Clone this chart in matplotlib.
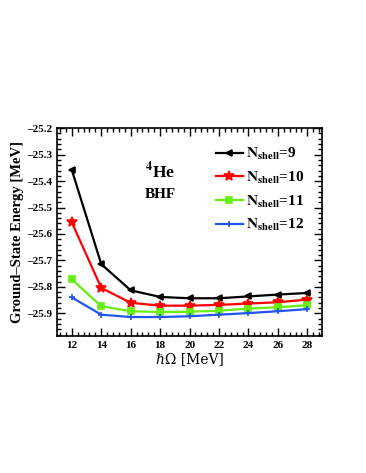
#!/usr/bin/python3

import matplotlib
matplotlib.use("Agg")
import matplotlib.pyplot as plt
from matplotlib.ticker import AutoMinorLocator, MultipleLocator
import numpy as np

# hbar*Omega values [MeV]
hw = [12, 14, 16, 18, 20, 22, 24, 26, 28]

# ground-state energies [MeV] for each model space
e_nshell9 = [-25.358, -25.714, -25.813, -25.838, -25.843, -25.843, -25.836, -25.829, -25.823]
e_nshell10 = [-25.556, -25.804, -25.860, -25.871, -25.871, -25.868, -25.863, -25.858, -25.848]
e_nshell11 = [-25.772, -25.873, -25.892, -25.895, -25.894, -25.890, -25.882, -25.877, -25.869]
e_nshell12 = [-25.840, -25.905, -25.914, -25.914, -25.911, -25.905, -25.899, -25.892, -25.884]

labels = ["9", "10", "11", "12"]


def main():
    plt.rcParams["font.family"] = ["Liberation Serif", "DejaVu Serif"]
    plt.rcParams["mathtext.fontset"] = "stix"
    plt.rcParams["font.weight"] = "bold"

    fig = plt.figure(figsize=(3.66, 4.73), dpi=100)
    ax = fig.add_axes([0.156, 0.290, 0.724, 0.439])

    series = [
        (e_nshell9, "black", "<", 5),
        (e_nshell10, "red", "*", 7.5),
        (e_nshell11, "#66ee11", "s", 4),
        (e_nshell12, "#2255ee", "+", 4),
    ]
    for (vals, col, mk, ms), lab in zip(series, labels):
        ax.plot(hw, vals, color=col, marker=mk, markersize=ms, lw=1.6,
                mew=1.2, label=r"$\mathbf{N}_{\mathbf{shell}}$=" + lab)

    ax.set_xlim(11, 29)
    ax.set_ylim(-25.985, -25.2)
    ax.xaxis.set_major_locator(MultipleLocator(2))
    ax.xaxis.set_minor_locator(AutoMinorLocator(5))
    ax.yaxis.set_major_locator(MultipleLocator(0.1))
    ax.yaxis.set_minor_locator(AutoMinorLocator(5))
    ax.tick_params(which="both", direction="in", top=True, right=True,
                   labelsize=8, width=1)
    ax.tick_params(which="major", length=6)
    ax.tick_params(which="minor", length=3)
    for lbl in ax.get_xticklabels() + ax.get_yticklabels():
        lbl.set_fontweight("bold")
    ax.yaxis.set_major_formatter(
        matplotlib.ticker.FuncFormatter(lambda v, p: "{:.1f}".format(v).replace("-", "\u2013")))
    for s in ax.spines.values():
        s.set_linewidth(1.2)

    ax.set_xlabel("\u210f\u03a9 [MeV]", fontsize=10, fontweight="normal",
                  family=["DejaVu Serif", "Liberation Serif"], labelpad=2)
    ax.set_ylabel("Ground\u2013State Energy [MeV]", fontsize=10.5,
                  fontweight="bold", labelpad=2)

    ax.text(0.39, 0.79, r"$\mathbf{^4}$He", transform=ax.transAxes,
            fontsize=12.5, fontweight="bold", ha="center", va="center")
    ax.text(0.39, 0.683, "BHF", transform=ax.transAxes,
            fontsize=11, fontweight="bold", ha="center", va="center")

    ax.legend(loc="upper right", bbox_to_anchor=(0.985, 0.98),
              frameon=False, handlelength=1.8,
              handletextpad=0.2, labelspacing=0.5,
              prop={"weight": "bold", "size": 11})

    fig.savefig("out.png", dpi=100)


if __name__ == "__main__":
    main()
